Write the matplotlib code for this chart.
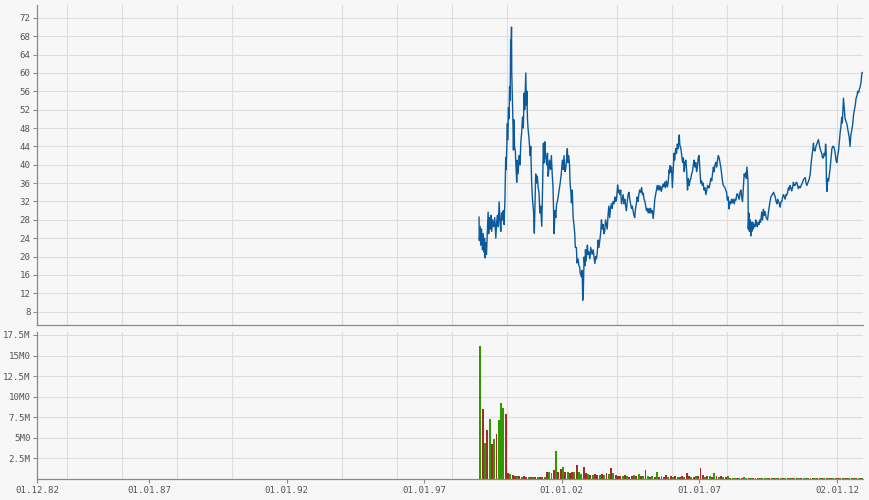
import numpy as np
import matplotlib
matplotlib.use('Agg')
import matplotlib.pyplot as plt

plt.rcParams['font.family'] = 'DejaVu Sans Mono'

# ---- price (decimal years, close) ----
price_year = [
    1998.99, 1999.00, 1999.03, 1999.05, 1999.08, 1999.11, 1999.14, 1999.17, 1999.19, 1999.21,
    1999.24, 1999.26, 1999.30, 1999.32, 1999.34, 1999.37, 1999.40, 1999.42, 1999.45, 1999.48,
    1999.52, 1999.56, 1999.60, 1999.63, 1999.66, 1999.69, 1999.72, 1999.75, 1999.78, 1999.81,
    1999.84, 1999.87, 1999.90, 1999.93, 1999.96, 1999.97, 2000.00, 2000.02, 2000.03, 2000.06,
    2000.08, 2000.10, 2000.12, 2000.14, 2000.15, 2000.17, 2000.18, 2000.20, 2000.22, 2000.24,
    2000.26, 2000.28, 2000.31, 2000.33, 2000.36, 2000.38, 2000.41, 2000.45, 2000.48, 2000.51,
    2000.54, 2000.57, 2000.60, 2000.63, 2000.65, 2000.69, 2000.71, 2000.73, 2000.75, 2000.77,
    2000.81, 2000.85, 2000.87, 2000.90, 2000.92, 2000.94, 2000.97, 2001.00, 2001.02, 2001.05,
    2001.08, 2001.11, 2001.14, 2001.17, 2001.20, 2001.23, 2001.27, 2001.30, 2001.33, 2001.35,
    2001.38, 2001.41, 2001.45, 2001.48, 2001.50, 2001.53, 2001.55, 2001.59, 2001.62, 2001.65,
    2001.68, 2001.70, 2001.72, 2001.75, 2001.78, 2001.81, 2001.84, 2001.89, 2001.94, 2001.98,
    2002.02, 2002.05, 2002.08, 2002.11, 2002.14, 2002.17, 2002.20, 2002.22, 2002.25, 2002.28,
    2002.30, 2002.33,
    2002.35, 2002.38, 2002.41, 2002.44, 2002.47, 2002.49, 2002.53, 2002.55, 2002.59, 2002.62,
    2002.65, 2002.67, 2002.71, 2002.74, 2002.76, 2002.78, 2002.81, 2002.84, 2002.86, 2002.88,
    2002.93, 2002.95, 2002.98, 2003.02, 2003.05, 2003.10, 2003.14, 2003.17, 2003.20, 2003.23,
    2003.26, 2003.29, 2003.32, 2003.35, 2003.38, 2003.41, 2003.44, 2003.47, 2003.50, 2003.53,
    2003.56, 2003.59, 2003.62, 2003.65, 2003.68, 2003.71, 2003.74, 2003.77, 2003.80, 2003.83,
    2003.86, 2003.90, 2003.93, 2003.96, 2003.99, 2004.03, 2004.05, 2004.08, 2004.11, 2004.14,
    2004.17, 2004.20, 2004.23, 2004.26, 2004.29, 2004.32, 2004.35, 2004.38, 2004.41, 2004.44,
    2004.47, 2004.50, 2004.53, 2004.56, 2004.59, 2004.62, 2004.65, 2004.68, 2004.71, 2004.74,
    2004.77, 2004.80, 2004.83, 2004.87, 2004.90, 2004.93, 2004.96, 2004.99, 2005.02, 2005.05,
    2005.08, 2005.11, 2005.14, 2005.17, 2005.20, 2005.23, 2005.26, 2005.29, 2005.32, 2005.35,
    2005.38, 2005.41, 2005.44, 2005.47, 2005.50, 2005.53, 2005.56, 2005.59, 2005.62, 2005.65,
    2005.68, 2005.71, 2005.74, 2005.77,
    2005.80, 2005.84, 2005.87, 2005.90, 2005.92, 2005.94, 2005.96, 2005.99, 2006.02, 2006.04,
    2006.08, 2006.10, 2006.14, 2006.17, 2006.20, 2006.23, 2006.27, 2006.29, 2006.33, 2006.36,
    2006.39, 2006.42, 2006.45, 2006.48, 2006.51, 2006.54, 2006.57, 2006.60, 2006.63, 2006.66,
    2006.69, 2006.72, 2006.75, 2006.78, 2006.81, 2006.84, 2006.87, 2006.90, 2006.93, 2006.96,
    2006.99, 2007.02, 2007.05, 2007.08, 2007.11, 2007.14, 2007.17, 2007.20, 2007.24, 2007.27,
    2007.30, 2007.33, 2007.36, 2007.39, 2007.42, 2007.45, 2007.48, 2007.51, 2007.54, 2007.57,
    2007.60, 2007.63, 2007.66, 2007.69, 2007.72, 2007.75, 2007.78, 2007.81, 2007.84, 2007.87,
    2007.90, 2007.93, 2007.96, 2007.99, 2008.02, 2008.05, 2008.08, 2008.11, 2008.14, 2008.17,
    2008.20, 2008.23, 2008.27, 2008.30, 2008.33, 2008.36, 2008.39, 2008.42, 2008.45, 2008.48,
    2008.51, 2008.54, 2008.57, 2008.60, 2008.63, 2008.66, 2008.69, 2008.71, 2008.73, 2008.75,
    2008.77, 2008.78, 2008.80, 2008.82, 2008.85, 2008.87, 2008.89, 2008.91, 2008.94, 2008.96,
    2008.99, 2009.02, 2009.05, 2009.08, 2009.11, 2009.14, 2009.17, 2009.20, 2009.23,
    2009.27, 2009.30, 2009.33, 2009.36, 2009.39, 2009.43, 2009.48, 2009.52, 2009.55, 2009.60,
    2009.65, 2009.70, 2009.73, 2009.76, 2009.79, 2009.82, 2009.85, 2009.88, 2009.91, 2009.94,
    2009.97, 2010.00, 2010.03, 2010.06, 2010.09, 2010.12, 2010.15, 2010.18, 2010.21, 2010.24,
    2010.27, 2010.30, 2010.33, 2010.36, 2010.39, 2010.42, 2010.45, 2010.48, 2010.51, 2010.54,
    2010.57, 2010.60, 2010.64, 2010.67, 2010.70, 2010.73, 2010.76, 2010.79, 2010.82, 2010.85,
    2010.88, 2010.91, 2010.94, 2010.97, 2011.00, 2011.03, 2011.06, 2011.09, 2011.12, 2011.15,
    2011.17, 2011.21, 2011.24, 2011.27, 2011.30, 2011.33, 2011.36, 2011.39, 2011.42, 2011.45,
    2011.48, 2011.51, 2011.54, 2011.57, 2011.59, 2011.61, 2011.62, 2011.64, 2011.67, 2011.70,
    2011.73, 2011.76, 2011.79, 2011.82, 2011.85, 2011.88, 2011.91, 2011.94, 2011.97, 2012.00,
    2012.03, 2012.06, 2012.09, 2012.12, 2012.15, 2012.18, 2012.20, 2012.24, 2012.26, 2012.30,
    2012.33, 2012.36, 2012.39, 2012.42, 2012.45, 2012.48, 2012.51, 2012.54, 2012.57, 2012.61,
    2012.64, 2012.67, 2012.70, 2012.73, 2012.76, 2012.79, 2012.82, 2012.85, 2012.88, 2012.91,
    2012.94,
]
price_val = [
    28.6, 23.5, 26.5, 22.5, 26.0, 21.5, 25.0, 21.0, 24.0, 19.7,
    23.0, 20.5, 27.0, 29.7, 25.0, 28.5, 26.0, 29.0, 25.5, 28.0,
    26.5, 28.5, 24.0, 27.5, 29.0, 26.5, 31.9, 28.0, 25.5, 29.5,
    28.0, 30.0, 27.0, 32.0, 41.5, 38.9, 44.0, 49.0, 45.4, 52.4,
    50.0, 57.0, 54.0, 67.2, 62.0, 70.0, 60.0, 55.0, 50.0, 43.2,
    49.8, 44.0, 43.0, 40.0, 36.2, 41.0, 38.0, 42.0, 40.0, 45.0,
    47.0, 50.4, 48.0, 55.6, 52.0, 60.0, 53.0, 56.0, 50.0, 48.0,
    45.5, 42.0, 44.0, 36.7, 33.9, 32.0, 30.0, 25.1, 30.0, 38.0,
    36.0, 37.5, 35.0, 34.0, 29.5, 31.0, 26.6, 35.0, 44.7, 40.4,
    45.0, 42.0, 40.0, 42.5, 37.5, 39.0, 41.0, 39.0, 42.0, 38.0,
    35.0, 29.5, 25.0, 30.0, 28.5, 31.5, 32.0, 34.0, 36.0, 38.0,
    41.0, 39.0, 42.0, 38.5, 39.0, 41.0, 43.5, 40.5, 42.0, 40.0,
    36.0, 34.0,
    31.7, 34.5, 28.6, 27.0, 25.0, 22.0, 22.0, 18.6, 19.5, 18.0,
    17.7, 16.4, 15.6, 17.0, 10.5, 12.0, 19.9, 18.0, 21.5, 19.0,
    22.5, 20.5, 21.0, 19.5, 22.0, 20.5, 21.5, 20.0, 18.5, 20.0,
    19.5, 21.0, 23.6, 22.0, 23.5, 25.0, 28.0, 26.0, 27.0, 25.0,
    25.5, 28.0, 27.0, 26.0, 29.0, 31.0, 28.5, 30.5, 31.5, 30.5,
    32.0, 31.5, 33.0, 32.0, 32.5, 35.6, 33.9, 34.5, 33.5, 34.5,
    31.5, 32.5, 33.5, 31.5, 32.5, 31.0, 30.0, 32.0, 33.5, 34.0,
    32.5, 31.5, 30.5, 31.0, 30.0, 29.0, 28.5, 30.5, 31.5, 33.0,
    32.0, 33.5, 34.5, 34.0, 35.0, 33.5, 33.8, 32.5, 32.0, 31.0,
    30.0, 30.5, 29.5, 30.5, 29.5, 30.5, 29.5, 30.0, 28.3, 30.0,
    32.5, 33.5, 34.5, 35.5, 34.5, 35.5, 34.5, 35.3, 34.2, 35.0,
    35.8, 35.2, 36.2, 35.0,
    36.5, 35.2, 36.3, 38.9, 38.2, 39.8, 38.5, 39.5, 35.0, 37.5,
    42.5, 41.0, 43.5, 42.5, 44.5, 43.5, 46.5, 44.3, 43.5, 42.0,
    40.5, 41.5, 38.5, 40.5, 41.0, 38.5, 34.5, 37.0, 35.5, 36.5,
    37.0, 38.0, 38.5, 40.0, 41.0, 39.5, 40.5, 38.5, 39.5, 41.5,
    42.0, 39.0, 36.0, 36.5, 35.5, 36.0, 34.5, 35.0, 33.5, 34.5,
    35.5, 35.0, 35.0, 36.0, 37.0, 36.5, 38.0, 39.5, 38.5, 40.0,
    40.5, 39.5, 41.0, 42.0, 41.5, 40.5, 39.5, 38.0, 36.5, 35.5,
    35.3, 35.0, 34.5, 34.0, 32.3, 33.0, 30.4, 32.0, 31.5, 32.5,
    31.7, 32.5, 31.5, 32.5, 32.3, 33.5, 33.7, 33.0, 32.5, 34.0,
    34.5, 33.0, 32.0, 35.0, 38.0, 37.5, 38.3, 37.0, 39.5, 38.0,
    36.5, 26.0, 29.5, 25.5, 28.0, 24.5, 27.5, 25.5, 27.5, 26.0,
    27.0, 26.5, 28.0, 27.0, 26.5, 27.5, 27.0, 28.0, 27.5,
    29.7, 28.0, 30.3, 29.0, 29.8, 28.5, 28.0, 30.0, 31.2, 33.0,
    33.5, 34.0, 33.5, 33.0, 32.0, 31.5, 32.5, 32.0, 31.5, 30.8,
    32.0, 32.0, 33.0, 33.5, 33.0, 32.5, 33.5, 33.4, 34.0, 35.0,
    34.5, 35.5, 35.0, 34.3, 35.0, 36.2, 35.5, 35.5, 36.0, 36.2,
    35.5, 34.8, 35.3, 35.0, 35.5, 35.8, 36.3, 36.8, 37.0, 37.2,
    36.0, 35.5, 36.0, 36.4, 37.0, 37.9, 40.0, 41.7, 43.0, 44.7,
    43.2, 43.0, 44.0, 44.5, 45.0, 45.5, 44.5, 43.5, 43.0, 42.5,
    41.5, 41.5, 42.5, 42.0, 44.5, 43.0, 36.5, 34.2, 37.0, 36.5,
    38.0, 39.5, 41.5, 43.5, 44.0, 44.0, 43.5, 42.5, 41.0, 40.5,
    42.0, 43.0, 45.0, 47.0, 48.5, 50.4, 49.1, 54.5, 53.0, 50.0,
    49.5, 49.0, 48.0, 47.0, 46.0, 44.0, 46.5, 47.5, 48.5, 51.0,
    52.0, 53.0, 54.5, 55.0, 56.0, 55.7, 56.5, 57.0, 58.0, 60.0,
    60.1,
]

# ---- monthly volume in millions, starting Jan 1999 ----
vol_start = 1999.0
vol_m = [
    16.2, 8.5, 4.4, 6.0, 7.3, 4.3, 4.9, 5.5, 7.2, 9.2, 8.6, 7.9,      # 1999
    0.7, 0.55, 0.5, 0.4, 0.35, 0.4, 0.3, 0.35, 0.3, 0.3, 0.25, 0.3,   # 2000
    0.3, 0.25, 0.2, 0.3, 0.25, 0.8, 0.9, 0.7, 1.1, 3.4, 0.9, 1.2,     # 2001
    1.4, 0.8, 0.9, 0.7, 0.8, 0.9, 1.7, 0.8, 0.6, 1.4, 0.7, 0.6,       # 2002
    0.5, 0.5, 0.6, 0.5, 0.5, 0.6, 0.5, 0.7, 0.6, 1.3, 0.7, 0.5,       # 2003
    0.4, 0.35, 0.4, 0.5, 0.35, 0.3, 0.4, 0.45, 0.35, 0.6, 0.4, 0.35,  # 2004
    1.1, 0.4, 0.3, 0.35, 0.3, 0.8, 0.3, 0.35, 0.3, 0.45, 0.3, 0.35,   # 2005
    0.3, 0.35, 0.3, 0.3, 0.35, 0.3, 0.7, 0.35, 0.3, 0.3, 0.35, 0.4,   # 2006
    1.3, 0.5, 0.3, 0.4, 0.35, 0.3, 0.7, 0.4, 0.3, 0.35, 0.3, 0.25,    # 2007
    0.35, 0.15, 0.12, 0.15, 0.12, 0.1, 0.12, 0.2, 0.15, 0.12, 0.1, 0.12,  # 2008
    0.12, 0.1, 0.12, 0.15, 0.1, 0.12, 0.1, 0.12, 0.1, 0.12, 0.15, 0.1,    # 2009
    0.12, 0.1, 0.12, 0.1, 0.12, 0.15, 0.1, 0.12, 0.1, 0.12, 0.1, 0.12,    # 2010
    0.1, 0.12, 0.15, 0.1, 0.12, 0.1, 0.12, 0.1, 0.15, 0.12, 0.1, 0.12,    # 2011
    0.12, 0.1, 0.12, 0.1, 0.12, 0.1, 0.12, 0.1, 0.12, 0.1, 0.12, 0.12,   # 2012
]
# up (G) / down (R) month
vol_dir = ("GRGRGRGRGGGR" "RGRRGRGRRGRG" "RGRRGRGGRGRR" "GRGRRGRGGRRG"
           "RGRRGRGRGRGR" "RRGRGRRGRGRG" "RGRGRGRGRRGR" "GRGRRGRRGRGR"
           "RRGRGRGRGRGR" "GRGGRGRGGRGR" "GRGRGGRGRGRG" "RGRGRGRGRGGR"
           "GRGRGRGRGRGR" "RGRGRGRGRGRG")

# axis ticks
x_tick_pos = [1982.917, 1987.0, 1992.0, 1997.0, 2002.0, 2007.0, 2012.003]
x_tick_lab = ['01.12.82', '01.01.87', '01.01.92', '01.01.97', '01.01.02', '01.01.07', '02.01.12']
x_grid_years = list(range(1984, 2013, 2))
price_ticks = list(range(8, 73, 4))
vol_ticks = [2.5, 5, 7.5, 10, 12.5, 15, 17.5]
vol_tick_lab = ['2.5M', '5M0', '7.5M', '10M0', '12.5M', '15M0', '17.5M']

bg = '#f7f7f7'
grid_c = '#dedede'
axis_c = '#8a8a8a'
text_c = '#555555'
line_c = '#0b5a9b'
bar_c = {'G': '#2f9a00', 'R': '#a52a2a'}

fig = plt.figure(figsize=(8.7, 5.0), dpi=100, facecolor=bg)
L, W = 37 / 870, 825.7 / 870
ax1 = fig.add_axes([L, 1 - 325 / 500, W, 320 / 500])
ax2 = fig.add_axes([L, 1 - 479 / 500, W, (479 - 331.7) / 500], sharex=ax1)

for ax in (ax1, ax2):
    ax.set_facecolor(bg)
    ax.set_axisbelow(True)
    for s in ('top', 'right'):
        ax.spines[s].set_visible(False)
    for s in ('left', 'bottom'):
        ax.spines[s].set_color(axis_c)
        ax.spines[s].set_linewidth(0.9)
    ax.set_xticks(x_grid_years, minor=True)
    ax.grid(which='minor', axis='x', color=grid_c, lw=0.8)
    ax.grid(which='major', axis='y', color=grid_c, lw=0.8)
    ax.tick_params(which='minor', length=0)
    ax.tick_params(which='major', direction='out', length=3.2, width=0.8, color=axis_c,
                   labelsize=6.6, labelcolor=text_c, pad=1.5)

# price panel
ax1.plot(price_year, price_val, color=line_c, lw=1.0)
ax1.set_ylim(5.1, 74.8)
ax1.set_yticks(price_ticks)
ax1.tick_params(axis='x', which='both', length=0, labelbottom=False)

# volume panel
n = len(vol_m)
vol_t = vol_start + (np.arange(n) + 0.5) / 12
ax2.bar(vol_t, vol_m, width=0.85 / 12, color=[bar_c[c] for c in vol_dir[:n]], linewidth=0)
ax2.set_ylim(0, 17.9)
ax2.set_yticks(vol_ticks)
ax2.set_yticklabels(vol_tick_lab)
ax2.set_xticks(x_tick_pos)
ax2.set_xticklabels(x_tick_lab)
ax2.set_xlim(1982.917, 2012.94)

fig.savefig('out.png', dpi=100, facecolor=bg)
